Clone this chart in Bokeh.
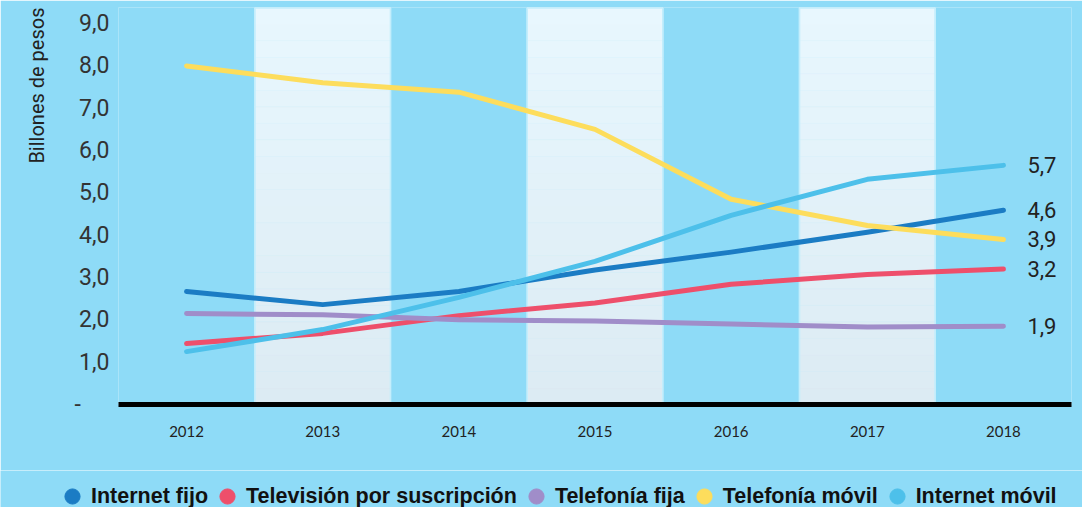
from bokeh.plotting import figure
from bokeh.layouts import column
from bokeh.models import FactorRange, Range1d, Legend, LegendItem, CustomJSTickFormatter, FixedTicker, Title
from bokeh.core.properties import value
from bokeh.embed import file_html
from bokeh.resources import INLINE

years = ["2012", "2013", "2014", "2015", "2016", "2017", "2018"]
internet_fijo = [2.67, 2.36, 2.67, 3.18, 3.6, 4.07, 4.59]
television = [1.44, 1.68, 2.1, 2.4, 2.84, 3.07, 3.2]
telefonia_fija = [2.15, 2.12, 2.0, 1.97, 1.9, 1.83, 1.85]
telefonia_movil = [8.0, 7.6, 7.38, 6.5, 4.85, 4.23, 3.9]
internet_movil = [1.25, 1.77, 2.53, 3.38, 4.47, 5.32, 5.65]
series_names = ["Internet fijo", "Televisión por suscripción", "Telefonía fija",
                "Telefonía móvil", "Internet móvil"]
end_labels = ["4,6", "3,2", "1,9", "3,9", "5,7"]
y_ticks = [0, 1, 2, 3, 4, 5, 6, 7, 8, 9]

series = [internet_fijo, television, telefonia_fija, telefonia_movil, internet_movil]
colors = ["#1B7CC4", "#EE4F6B", "#A08DC9", "#FDDD5C", "#4DC0EA"]
BG = "#8EDBF7"
Y_TOP = 9.38

p = figure(x_range=FactorRange(factors=years, range_padding=0),
           y_range=Range1d(0, Y_TOP),
           width=1082, height=470, output_backend="svg", toolbar_location=None,
           min_border_left=118, min_border_right=11, min_border_top=7, min_border_bottom=66)
p.frame_align = False
p.background_fill_color = BG
p.border_fill_color = BG
p.outline_line_color = None
p.grid.visible = False

# alternating bands with a soft vertical gradient
band_years = years[1::2]
top_c = (0xE8, 0xF7, 0xFE)
bot_c = (0xDC, 0xEB, 0xF3)
n_strips = 24
for k in range(n_strips):
    t = (k + 0.5) / n_strips
    c = tuple(int(round(bot_c[i] + (top_c[i] - bot_c[i]) * t)) for i in range(3))
    col = "#%02X%02X%02X" % c
    p.vbar(x=band_years, width=1, bottom=Y_TOP * k / n_strips, top=Y_TOP * (k + 1) / n_strips,
           fill_color=col, line_color=col, line_width=0.5)
p.vbar(x=band_years, width=0.995, bottom=0, top=Y_TOP - 0.01, fill_color=None,
       line_color="#C4EEFC", line_width=1.5)

for vals, col in zip(series, colors):
    p.line(x=years, y=vals, line_color=col, line_width=5, line_cap="round", line_join="round")

# end labels
p.text(x=[years[-1]] * len(series), y=[s[-1] for s in series], text=end_labels,
       x_offset=24, text_baseline="middle", text_align="left",
       text_font=value("Roboto"), text_font_size="22px", text_color="#222222")

# axes
p.xaxis.axis_line_width = 5
p.xaxis.axis_line_color = "black"
p.xaxis.major_tick_line_color = None
p.xaxis.minor_tick_line_color = None
p.xaxis.major_label_standoff = 15
p.xaxis.major_label_text_font = "Lato"
p.xaxis.major_label_text_font_size = "15px"
p.xaxis.major_label_text_color = "#222222"

p.yaxis.ticker = FixedTicker(ticks=y_ticks)
p.yaxis.axis_line_color = None
p.yaxis.major_tick_line_color = None
p.yaxis.minor_tick_line_color = None
p.yaxis.major_label_standoff = 3
p.yaxis.major_label_text_font = "Roboto"
p.yaxis.major_label_text_font_size = "23px"
p.yaxis.major_label_text_color = "#333333"
p.yaxis.formatter = CustomJSTickFormatter(code="""
    if (tick == 0) { return "-\\u00a0\\u00a0\\u00a0\\u00a0\\u00a0"; }
    return tick.toFixed(1).replace(".", ",");
""")

p.add_layout(Title(text="Billones de pesos", align="right", standoff=42, vertical_align="top",
                   text_font="Roboto", text_font_size="20px", text_font_style="normal",
                   text_color="#222222"), "left")

# legend strip in its own full-width panel
leg = figure(width=1082, height=37, output_backend="svg", toolbar_location=None,
             min_border=0, x_range=FactorRange(factors=years), y_range=Range1d(100, 101))
leg.frame_align = False
leg.axis.visible = False
leg.grid.visible = False
leg.outline_line_color = None
leg.background_fill_color = BG
leg.border_fill_color = BG
items = []
for name, vals, col in zip(series_names, series, colors):
    r = leg.scatter(x=years, y=vals, marker="circle", size=16, fill_color=col, line_color=col)
    items.append(LegendItem(label=name, renderers=[r]))
legend = Legend(items=items, orientation="horizontal", location=(53, -8),
                background_fill_alpha=0, border_line_color=None, margin=0,
                label_text_font="Liberation Sans", label_text_font_style="bold",
                label_text_font_size="21.5px", label_text_color="#111111",
                glyph_width=38, glyph_height=38, label_standoff=0, spacing=0, padding=0,
                label_height=20)
leg.add_layout(legend, "center")

layout = column(p, leg, spacing=0)
open("out.html", "w").write(file_html(layout, INLINE))
